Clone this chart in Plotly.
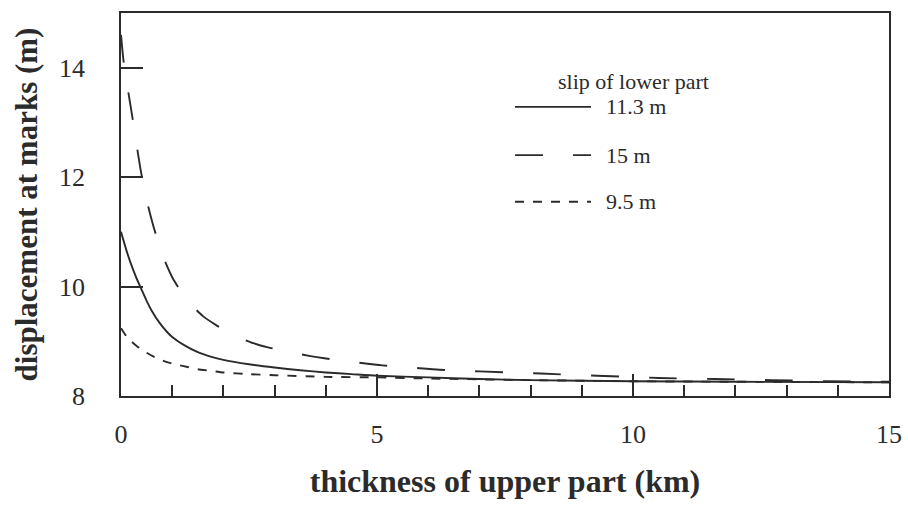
import plotly.graph_objects as go

# thickness of upper part (km) and displacement at marks (m)
x_113 = [0, 0.1, 0.2, 0.3, 0.4, 0.5, 0.6, 0.75, 0.9, 1.0, 1.25, 1.5, 1.75, 2, 2.5, 3, 3.5, 4, 4.5, 5,
         6, 7, 8, 10, 12, 15]
y_113 = [11.0, 10.68, 10.40, 10.16, 9.95, 9.74, 9.56, 9.34, 9.17, 9.08, 8.92, 8.80, 8.72, 8.66, 8.58, 8.52,
         8.47, 8.43, 8.40, 8.37, 8.34, 8.31, 8.29, 8.27, 8.26, 8.25]

x_15 = [0, 0.05, 0.13, 0.22, 0.3, 0.38, 0.49, 0.64, 0.82, 1.0, 1.2, 1.4, 1.6, 1.85, 2.1, 2.35, 2.6, 2.87,
        3.15, 3.42, 3.7, 3.97, 4.3, 4.56, 5.1, 5.67, 6.22, 7, 8.2, 9.3, 10.5, 11.6, 12.7, 13.8, 15]
y_15 = [14.6, 14.12, 13.63, 13.11, 12.62, 12.15, 11.62, 11.08, 10.55, 10.17, 9.87, 9.64, 9.46, 9.30, 9.16, 9.05,
        8.96, 8.89, 8.83, 8.78, 8.73, 8.69, 8.65, 8.62, 8.56, 8.52, 8.48, 8.45, 8.41, 8.37, 8.33, 8.31, 8.29, 8.27, 8.26]

x_95 = [0, 0.1, 0.2, 0.3, 0.4, 0.5, 0.7, 0.9, 1.1, 1.3, 1.5, 1.75, 2, 2.5, 3, 4, 5, 6, 8, 10, 12, 15]
y_95 = [9.24, 9.10, 9.00, 8.92, 8.85, 8.79, 8.69, 8.62, 8.57, 8.53, 8.49, 8.46, 8.43, 8.40, 8.38, 8.35, 8.34,
        8.32, 8.29, 8.27, 8.26, 8.25]

legend_title = "slip of lower part"
series_names = ["11.3 m", "15 m", "9.5 m"]
x_ticks = [0, 5, 10, 15]
y_ticks = [8, 10, 12, 14]

INK = "#2b2b2b"
SERIF = "Liberation Serif, Times New Roman, serif"
dashes = ["solid", "28px,30px", "9px,9px"]

fig = go.Figure()
for xs, ys, name, dash in zip([x_113, x_15, x_95], [y_113, y_15, y_95], series_names, dashes):
    fig.add_trace(go.Scatter(x=xs, y=ys, mode="lines", name=name,
                             line=dict(color=INK, width=1.9, dash=dash, shape="spline", smoothing=0.6),
                             showlegend=False))

# legend drawn as in the original figure
leg_y = [0.755, 0.629, 0.507]
for name, dash, yy in zip(series_names, dashes, leg_y):
    fig.add_shape(type="line", xref="paper", yref="paper", x0=0.513, x1=0.612, y0=yy, y1=yy,
                  line=dict(color=INK, width=1.9, dash=dash))
    fig.add_annotation(xref="paper", yref="paper", x=0.629, y=yy, text=name, showarrow=False,
                       xanchor="left", yanchor="middle", font=dict(family=SERIF, size=22, color=INK))
fig.add_annotation(xref="paper", yref="paper", x=0.566, y=0.82, text=legend_title, showarrow=False,
                   xanchor="left", yanchor="middle", font=dict(family=SERIF, size=22, color=INK))

fig.update_xaxes(range=[0, 15], tickvals=x_ticks, ticktext=[str(v) for v in x_ticks], automargin=False,
                 ticks="inside", ticklen=22, tickwidth=1.5, tickcolor=INK,
                 minor=dict(dtick=1, ticks="inside", ticklen=11, tickwidth=1.5, tickcolor=INK),
                 showline=True, linecolor=INK, linewidth=1.5, mirror=True, showgrid=False, zeroline=False,
                 tickfont=dict(family=SERIF, size=26, color=INK), ticklabelstandoff=14,
                 title=dict(text="<b>thickness of upper part (km)</b>", font=dict(family=SERIF, size=32, color=INK),
                            standoff=22))
fig.update_yaxes(range=[8, 15], tickvals=y_ticks, ticktext=[str(v) for v in y_ticks], automargin=False,
                 ticks="inside", ticklen=22, tickwidth=1.5, tickcolor=INK,
                 showline=True, linecolor=INK, linewidth=1.5, mirror=True, showgrid=False, zeroline=False,
                 tickfont=dict(family=SERIF, size=26, color=INK), ticklabelstandoff=29,
                 title=dict(text="<b>displacement at marks (m)</b>", font=dict(family=SERIF, size=31, color=INK),
                            standoff=12))

fig.update_layout(width=908, height=508, margin=dict(l=121, r=19, t=13, b=112),
                  paper_bgcolor="white", plot_bgcolor="white")

fig.write_html("out.html")
